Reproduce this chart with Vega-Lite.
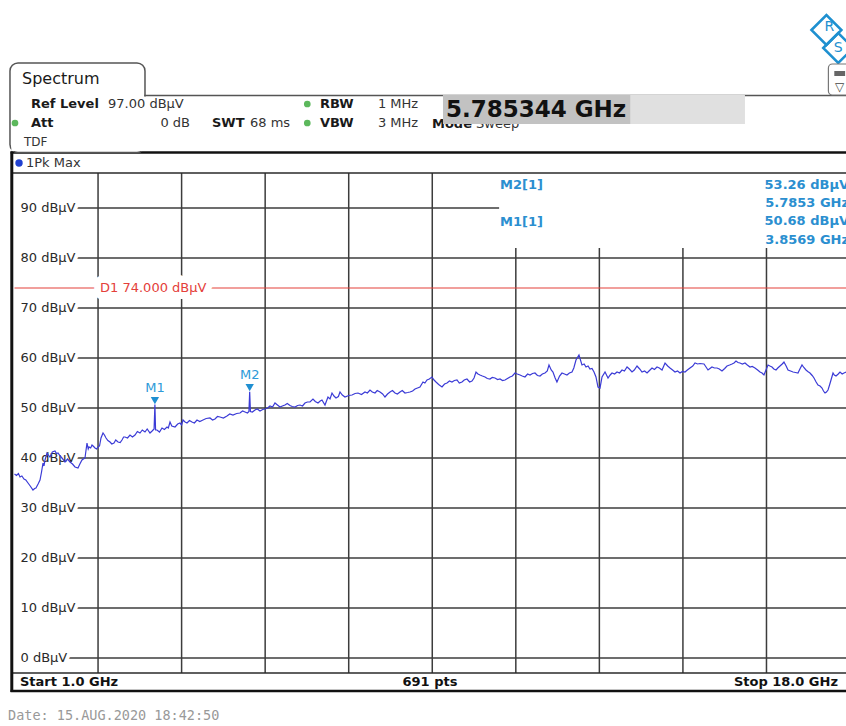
{
  "$schema": "https://vega.github.io/schema/vega-lite/v6.json",
  "width": 846,
  "height": 726,
  "autosize": {"type": "fit", "contains": "padding"},
  "padding": 0,
  "background": "white",
  "config": {"view": {"stroke": null}, "font": "DejaVu Sans", "text": {"font": "DejaVu Sans", "fontSize": 13}},
  "data": {"values": [{}]},
  "datasets": {
    "grid": [
      {"level": 90, "label": "90 dBµV"}, {"level": 80, "label": "80 dBµV"}, {"level": 70, "label": "70 dBµV"},
      {"level": 60, "label": "60 dBµV"}, {"level": 50, "label": "50 dBµV"}, {"level": 40, "label": "40 dBµV"},
      {"level": 30, "label": "30 dBµV"}, {"level": 20, "label": "20 dBµV"}, {"level": 10, "label": "10 dBµV"},
      {"level": 0, "label": "0 dBµV"}
    ],
    "divisions": [
      {"freq": 2.7}, {"freq": 4.4}, {"freq": 6.1}, {"freq": 7.8}, {"freq": 9.5},
      {"freq": 11.2}, {"freq": 12.9}, {"freq": 14.6}, {"freq": 16.3}
    ],
    "limit": [{"name": "D1", "level": 74, "label": "D1  74.000 dBµV"}],
    "markers": [
      {"marker": "M1", "freq": 3.8569, "level": 50.68},
      {"marker": "M2", "freq": 5.7853, "level": 53.26}
    ],
    "trace": [
      {"freq": 1.0, "level": 36.8}, {"freq": 1.04, "level": 36.5}, {"freq": 1.08, "level": 36.9}, {"freq": 1.112, "level": 36.2},
      {"freq": 1.15, "level": 36.4}, {"freq": 1.193, "level": 35.8}, {"freq": 1.23, "level": 35.6}, {"freq": 1.275, "level": 35.0},
      {"freq": 1.32, "level": 34.4}, {"freq": 1.376, "level": 33.6}, {"freq": 1.41, "level": 33.9}, {"freq": 1.437, "level": 34.0},
      {"freq": 1.48, "level": 34.8}, {"freq": 1.519, "level": 35.6}, {"freq": 1.55, "level": 37.2}, {"freq": 1.58, "level": 39.0},
      {"freq": 1.6, "level": 38.4}, {"freq": 1.621, "level": 39.6}, {"freq": 1.661, "level": 41.0}, {"freq": 1.69, "level": 40.6},
      {"freq": 1.722, "level": 40.2}, {"freq": 1.77, "level": 41.2}, {"freq": 1.824, "level": 41.4}, {"freq": 1.855, "level": 40.9},
      {"freq": 1.885, "level": 41.0}, {"freq": 1.93, "level": 40.4}, {"freq": 1.966, "level": 40.0}, {"freq": 2.0, "level": 39.6},
      {"freq": 2.027, "level": 39.2}, {"freq": 2.08, "level": 39.8}, {"freq": 2.129, "level": 39.2}, {"freq": 2.18, "level": 38.8},
      {"freq": 2.231, "level": 38.2}, {"freq": 2.292, "level": 38.0}, {"freq": 2.33, "level": 38.8}, {"freq": 2.373, "level": 39.6},
      {"freq": 2.434, "level": 40.0}, {"freq": 2.475, "level": 43.0}, {"freq": 2.5, "level": 41.8}, {"freq": 2.516, "level": 42.2},
      {"freq": 2.55, "level": 42.0}, {"freq": 2.577, "level": 42.6}, {"freq": 2.61, "level": 42.3}, {"freq": 2.638, "level": 42.0},
      {"freq": 2.67, "level": 41.8}, {"freq": 2.699, "level": 42.2}, {"freq": 2.73, "level": 42.4}, {"freq": 2.76, "level": 44.0},
      {"freq": 2.801, "level": 45.0}, {"freq": 2.83, "level": 44.6}, {"freq": 2.862, "level": 44.0}, {"freq": 2.9, "level": 43.5},
      {"freq": 2.943, "level": 43.2}, {"freq": 2.98, "level": 42.8}, {"freq": 3.024, "level": 43.0}, {"freq": 3.06, "level": 43.6},
      {"freq": 3.106, "level": 43.2}, {"freq": 3.15, "level": 43.1}, {"freq": 3.187, "level": 43.6}, {"freq": 3.22, "level": 44.2},
      {"freq": 3.248, "level": 44.2}, {"freq": 3.3, "level": 44.0}, {"freq": 3.35, "level": 44.6}, {"freq": 3.4, "level": 44.2},
      {"freq": 3.452, "level": 44.6}, {"freq": 3.5, "level": 45.3}, {"freq": 3.553, "level": 45.0}, {"freq": 3.6, "level": 45.6},
      {"freq": 3.655, "level": 45.2}, {"freq": 3.7, "level": 45.8}, {"freq": 3.757, "level": 45.0}, {"freq": 3.8, "level": 45.4},
      {"freq": 3.84, "level": 45.8}, {"freq": 3.8569, "level": 50.68}, {"freq": 3.87, "level": 45.6}, {"freq": 3.899, "level": 45.6},
      {"freq": 3.95, "level": 45.2}, {"freq": 4.001, "level": 46.0}, {"freq": 4.05, "level": 45.7}, {"freq": 4.103, "level": 46.2},
      {"freq": 4.13, "level": 46.0}, {"freq": 4.164, "level": 47.2}, {"freq": 4.2, "level": 46.4}, {"freq": 4.266, "level": 46.2},
      {"freq": 4.32, "level": 46.8}, {"freq": 4.367, "level": 47.0}, {"freq": 4.4, "level": 46.6}, {"freq": 4.428, "level": 47.6},
      {"freq": 4.47, "level": 47.2}, {"freq": 4.51, "level": 47.0}, {"freq": 4.56, "level": 47.5}, {"freq": 4.611, "level": 47.2},
      {"freq": 4.66, "level": 47.0}, {"freq": 4.713, "level": 47.6}, {"freq": 4.77, "level": 47.3}, {"freq": 4.835, "level": 47.6},
      {"freq": 4.9, "level": 47.9}, {"freq": 4.977, "level": 48.0}, {"freq": 5.03, "level": 47.6}, {"freq": 5.079, "level": 47.8},
      {"freq": 5.13, "level": 48.3}, {"freq": 5.181, "level": 48.2}, {"freq": 5.25, "level": 48.0}, {"freq": 5.323, "level": 48.4},
      {"freq": 5.38, "level": 48.8}, {"freq": 5.445, "level": 48.6}, {"freq": 5.52, "level": 48.9}, {"freq": 5.588, "level": 49.0},
      {"freq": 5.64, "level": 49.4}, {"freq": 5.69, "level": 49.2}, {"freq": 5.74, "level": 49.0}, {"freq": 5.77, "level": 49.3},
      {"freq": 5.7853, "level": 53.26}, {"freq": 5.8, "level": 49.3}, {"freq": 5.84, "level": 49.2}, {"freq": 5.893, "level": 49.6},
      {"freq": 5.94, "level": 49.8}, {"freq": 5.995, "level": 49.4}, {"freq": 6.05, "level": 49.7}, {"freq": 6.097, "level": 49.8},
      {"freq": 6.15, "level": 50.0}, {"freq": 6.198, "level": 50.4}, {"freq": 6.25, "level": 50.2}, {"freq": 6.3, "level": 51.0},
      {"freq": 6.35, "level": 50.6}, {"freq": 6.402, "level": 50.2}, {"freq": 6.45, "level": 50.4}, {"freq": 6.503, "level": 50.6},
      {"freq": 6.55, "level": 50.9}, {"freq": 6.605, "level": 50.5}, {"freq": 6.65, "level": 50.3}, {"freq": 6.707, "level": 50.2},
      {"freq": 6.76, "level": 50.5}, {"freq": 6.809, "level": 50.6}, {"freq": 6.86, "level": 50.4}, {"freq": 6.91, "level": 51.0},
      {"freq": 6.96, "level": 51.2}, {"freq": 7.012, "level": 51.2}, {"freq": 7.073, "level": 51.8}, {"freq": 7.12, "level": 51.3},
      {"freq": 7.175, "level": 51.0}, {"freq": 7.22, "level": 51.4}, {"freq": 7.256, "level": 51.6}, {"freq": 7.317, "level": 50.6},
      {"freq": 7.378, "level": 52.2}, {"freq": 7.42, "level": 51.8}, {"freq": 7.46, "level": 53.0}, {"freq": 7.5, "level": 52.4},
      {"freq": 7.541, "level": 52.0}, {"freq": 7.59, "level": 52.3}, {"freq": 7.623, "level": 53.2}, {"freq": 7.67, "level": 52.6},
      {"freq": 7.724, "level": 52.2}, {"freq": 7.8, "level": 52.5}, {"freq": 7.867, "level": 52.6}, {"freq": 7.93, "level": 52.9},
      {"freq": 7.989, "level": 53.0}, {"freq": 8.06, "level": 52.7}, {"freq": 8.131, "level": 53.2}, {"freq": 8.18, "level": 53.0},
      {"freq": 8.233, "level": 53.6}, {"freq": 8.28, "level": 53.2}, {"freq": 8.335, "level": 53.0}, {"freq": 8.38, "level": 53.5},
      {"freq": 8.437, "level": 53.2}, {"freq": 8.49, "level": 52.8}, {"freq": 8.538, "level": 52.2}, {"freq": 8.59, "level": 52.8},
      {"freq": 8.64, "level": 53.2}, {"freq": 8.69, "level": 53.5}, {"freq": 8.742, "level": 53.0}, {"freq": 8.79, "level": 52.8},
      {"freq": 8.843, "level": 53.2}, {"freq": 8.89, "level": 53.5}, {"freq": 8.945, "level": 53.0}, {"freq": 9.0, "level": 53.1},
      {"freq": 9.047, "level": 53.2}, {"freq": 9.1, "level": 53.4}, {"freq": 9.149, "level": 53.8}, {"freq": 9.2, "level": 54.0},
      {"freq": 9.25, "level": 54.2}, {"freq": 9.311, "level": 55.2}, {"freq": 9.35, "level": 55.0}, {"freq": 9.393, "level": 55.6},
      {"freq": 9.44, "level": 55.8}, {"freq": 9.494, "level": 56.2}, {"freq": 9.536, "level": 55.6}, {"freq": 9.576, "level": 55.2},
      {"freq": 9.63, "level": 54.7}, {"freq": 9.698, "level": 54.2}, {"freq": 9.75, "level": 54.8}, {"freq": 9.8, "level": 55.0},
      {"freq": 9.85, "level": 55.4}, {"freq": 9.901, "level": 55.2}, {"freq": 9.95, "level": 55.5}, {"freq": 10.003, "level": 55.6},
      {"freq": 10.05, "level": 55.0}, {"freq": 10.105, "level": 55.2}, {"freq": 10.15, "level": 55.6}, {"freq": 10.206, "level": 55.8},
      {"freq": 10.26, "level": 55.2}, {"freq": 10.308, "level": 55.4}, {"freq": 10.35, "level": 56.0}, {"freq": 10.39, "level": 57.2},
      {"freq": 10.43, "level": 56.8}, {"freq": 10.471, "level": 56.6}, {"freq": 10.52, "level": 56.4}, {"freq": 10.573, "level": 56.2},
      {"freq": 10.62, "level": 55.9}, {"freq": 10.674, "level": 55.8}, {"freq": 10.72, "level": 56.1}, {"freq": 10.776, "level": 56.0},
      {"freq": 10.83, "level": 55.7}, {"freq": 10.878, "level": 55.8}, {"freq": 10.93, "level": 55.5}, {"freq": 10.98, "level": 55.6},
      {"freq": 11.03, "level": 55.9}, {"freq": 11.081, "level": 56.2}, {"freq": 11.13, "level": 56.4}, {"freq": 11.183, "level": 57.0},
      {"freq": 11.23, "level": 56.8}, {"freq": 11.285, "level": 56.6}, {"freq": 11.33, "level": 56.4}, {"freq": 11.386, "level": 56.2},
      {"freq": 11.44, "level": 56.8}, {"freq": 11.488, "level": 56.6}, {"freq": 11.54, "level": 56.9}, {"freq": 11.59, "level": 57.0},
      {"freq": 11.64, "level": 56.5}, {"freq": 11.692, "level": 56.4}, {"freq": 11.74, "level": 56.8}, {"freq": 11.793, "level": 57.0},
      {"freq": 11.84, "level": 57.4}, {"freq": 11.875, "level": 58.6}, {"freq": 11.92, "level": 57.6}, {"freq": 11.956, "level": 57.2},
      {"freq": 12.0, "level": 56.0}, {"freq": 12.037, "level": 55.2}, {"freq": 12.09, "level": 56.4}, {"freq": 12.139, "level": 57.0},
      {"freq": 12.19, "level": 56.8}, {"freq": 12.241, "level": 56.6}, {"freq": 12.29, "level": 57.0}, {"freq": 12.343, "level": 57.2},
      {"freq": 12.38, "level": 58.0}, {"freq": 12.424, "level": 59.6}, {"freq": 12.485, "level": 60.6}, {"freq": 12.546, "level": 58.6},
      {"freq": 12.59, "level": 58.8}, {"freq": 12.628, "level": 58.2}, {"freq": 12.67, "level": 58.4}, {"freq": 12.709, "level": 57.8},
      {"freq": 12.75, "level": 57.9}, {"freq": 12.791, "level": 57.2}, {"freq": 12.831, "level": 56.2}, {"freq": 12.872, "level": 54.2},
      {"freq": 12.913, "level": 54.0}, {"freq": 12.954, "level": 56.2}, {"freq": 13.015, "level": 57.2}, {"freq": 13.076, "level": 56.0},
      {"freq": 13.12, "level": 56.6}, {"freq": 13.157, "level": 57.0}, {"freq": 13.21, "level": 56.8}, {"freq": 13.259, "level": 57.2},
      {"freq": 13.31, "level": 57.0}, {"freq": 13.361, "level": 57.6}, {"freq": 13.41, "level": 57.4}, {"freq": 13.463, "level": 58.2},
      {"freq": 13.51, "level": 57.8}, {"freq": 13.564, "level": 57.2}, {"freq": 13.61, "level": 57.6}, {"freq": 13.666, "level": 58.4},
      {"freq": 13.72, "level": 57.8}, {"freq": 13.768, "level": 57.2}, {"freq": 13.82, "level": 57.4}, {"freq": 13.87, "level": 57.0},
      {"freq": 13.92, "level": 57.5}, {"freq": 13.971, "level": 58.0}, {"freq": 14.02, "level": 57.7}, {"freq": 14.073, "level": 58.2},
      {"freq": 14.12, "level": 58.0}, {"freq": 14.175, "level": 57.6}, {"freq": 14.236, "level": 59.0}, {"freq": 14.29, "level": 58.4},
      {"freq": 14.337, "level": 58.0}, {"freq": 14.39, "level": 57.6}, {"freq": 14.439, "level": 57.2}, {"freq": 14.49, "level": 57.4},
      {"freq": 14.541, "level": 57.0}, {"freq": 14.59, "level": 57.3}, {"freq": 14.642, "level": 57.2}, {"freq": 14.69, "level": 57.6},
      {"freq": 14.744, "level": 58.0}, {"freq": 14.8, "level": 58.4}, {"freq": 14.846, "level": 59.0}, {"freq": 14.9, "level": 58.8},
      {"freq": 14.947, "level": 58.9}, {"freq": 15.029, "level": 58.8}, {"freq": 15.07, "level": 58.2}, {"freq": 15.11, "level": 57.6},
      {"freq": 15.15, "level": 57.9}, {"freq": 15.191, "level": 58.2}, {"freq": 15.24, "level": 58.0}, {"freq": 15.293, "level": 58.0},
      {"freq": 15.34, "level": 57.8}, {"freq": 15.395, "level": 57.4}, {"freq": 15.45, "level": 57.9}, {"freq": 15.497, "level": 58.4},
      {"freq": 15.55, "level": 58.6}, {"freq": 15.599, "level": 58.8}, {"freq": 15.64, "level": 59.0}, {"freq": 15.68, "level": 59.4},
      {"freq": 15.72, "level": 59.1}, {"freq": 15.761, "level": 59.0}, {"freq": 15.81, "level": 58.8}, {"freq": 15.863, "level": 59.0},
      {"freq": 15.91, "level": 58.6}, {"freq": 15.965, "level": 58.2}, {"freq": 16.01, "level": 58.3}, {"freq": 16.066, "level": 58.0},
      {"freq": 16.12, "level": 57.6}, {"freq": 16.168, "level": 57.2}, {"freq": 16.21, "level": 57.0}, {"freq": 16.249, "level": 56.6},
      {"freq": 16.29, "level": 57.6}, {"freq": 16.331, "level": 58.6}, {"freq": 16.37, "level": 58.4}, {"freq": 16.412, "level": 58.2},
      {"freq": 16.45, "level": 57.8}, {"freq": 16.494, "level": 57.6}, {"freq": 16.53, "level": 58.0}, {"freq": 16.575, "level": 58.4},
      {"freq": 16.62, "level": 58.8}, {"freq": 16.656, "level": 59.2}, {"freq": 16.7, "level": 58.4}, {"freq": 16.738, "level": 57.6},
      {"freq": 16.79, "level": 57.4}, {"freq": 16.84, "level": 57.2}, {"freq": 16.89, "level": 57.1}, {"freq": 16.941, "level": 57.0},
      {"freq": 16.98, "level": 57.8}, {"freq": 17.023, "level": 58.6}, {"freq": 17.06, "level": 58.1}, {"freq": 17.104, "level": 57.6},
      {"freq": 17.14, "level": 57.3}, {"freq": 17.185, "level": 57.0}, {"freq": 17.23, "level": 56.5}, {"freq": 17.267, "level": 56.0},
      {"freq": 17.31, "level": 55.2}, {"freq": 17.348, "level": 54.6}, {"freq": 17.39, "level": 54.4}, {"freq": 17.43, "level": 54.0},
      {"freq": 17.46, "level": 53.4}, {"freq": 17.491, "level": 53.0}, {"freq": 17.52, "level": 53.2}, {"freq": 17.552, "level": 53.6},
      {"freq": 17.58, "level": 54.5}, {"freq": 17.613, "level": 55.6}, {"freq": 17.654, "level": 57.0}, {"freq": 17.68, "level": 56.6},
      {"freq": 17.715, "level": 56.4}, {"freq": 17.76, "level": 56.8}, {"freq": 17.796, "level": 57.2}, {"freq": 17.84, "level": 56.8},
      {"freq": 17.877, "level": 57.0}, {"freq": 17.92, "level": 57.2}, {"freq": 18.0, "level": 57.0}
    ]
  },
  "layer": [
    {
      "data": {"name": "grid"},
      "mark": {"type": "rule", "color": "#3c3c3c", "strokeWidth": 1.5, "clip": true},
      "encoding": {
        "x": {"datum": 1.13, "scale": {"domain": [0.705, 17.918], "nice": false, "zero": false}, "axis": null},
        "x2": {"datum": 18},
        "y": {"field": "level", "type": "quantitative", "scale": {"domain": [-13.6, 131.6], "nice": false, "zero": false}, "axis": null}
      }
    },
    {
      "data": {"name": "divisions"},
      "mark": {"type": "rule", "color": "#3c3c3c", "strokeWidth": 1.5},
      "encoding": {
        "x": {"field": "freq", "type": "quantitative", "axis": null},
        "y": {"datum": 97, "axis": null}, "y2": {"datum": -3}
      }
    },
    {
      "mark": {"type": "rect", "color": "white", "clip": true},
      "encoding": {
        "x": {"datum": 10.86, "axis": null}, "x2": {"datum": 18},
        "y": {"datum": 97, "axis": null}, "y2": {"datum": 82}
      }
    },
    {
      "data": {"name": "grid"},
      "mark": {"type": "text", "align": "left", "baseline": "middle", "dx": 6, "fontSize": 13, "fill": "white", "stroke": "white", "strokeWidth": 8, "strokeJoin": "round"},
      "encoding": {
        "x": {"datum": 1, "axis": null},
        "y": {"field": "level", "type": "quantitative", "axis": null},
        "text": {"field": "label"}
      }
    },
    {
      "data": {"name": "grid"},
      "mark": {"type": "text", "align": "left", "baseline": "middle", "dx": 6, "fontSize": 13, "color": "#2a2a2a"},
      "encoding": {
        "x": {"datum": 1, "axis": null},
        "y": {"field": "level", "type": "quantitative", "axis": null},
        "text": {"field": "label"}
      }
    },
    {
      "data": {"name": "limit"},
      "mark": {"type": "rule", "color": "#e4403a", "strokeWidth": 1.2, "clip": true},
      "encoding": {
        "x": {"datum": 1, "axis": null}, "x2": {"datum": 18},
        "y": {"field": "level", "type": "quantitative", "axis": null}
      }
    },
    {
      "data": {"name": "limit"},
      "mark": {"type": "text", "align": "left", "baseline": "middle", "fontSize": 13, "fill": "white", "stroke": "white", "strokeWidth": 14, "strokeJoin": "round"},
      "encoding": {
        "x": {"datum": 2.74, "axis": null},
        "y": {"field": "level", "type": "quantitative", "axis": null},
        "text": {"field": "label"}
      }
    },
    {
      "data": {"name": "limit"},
      "mark": {"type": "text", "align": "left", "baseline": "middle", "fontSize": 13, "color": "#e4403a"},
      "encoding": {
        "x": {"datum": 2.74, "axis": null},
        "y": {"field": "level", "type": "quantitative", "axis": null},
        "text": {"field": "label"}
      }
    },
    {
      "data": {"name": "trace"},
      "mark": {"type": "line", "color": "#3b3bd6", "strokeWidth": 1.2, "clip": true},
      "encoding": {
        "x": {"field": "freq", "type": "quantitative", "axis": null},
        "y": {"field": "level", "type": "quantitative", "axis": null}
      }
    },
    {
      "data": {"name": "markers"},
      "mark": {"type": "point", "shape": "triangle-down", "filled": true, "color": "#1f8fd1", "size": 70, "opacity": 1, "yOffset": -4},
      "encoding": {
        "x": {"field": "freq", "type": "quantitative", "axis": null},
        "y": {"field": "level", "type": "quantitative", "axis": null}
      }
    },
    {
      "data": {"name": "markers"},
      "mark": {"type": "text", "baseline": "middle", "fontSize": 13, "dy": -17, "color": "#2d9ad8"},
      "encoding": {
        "x": {"field": "freq", "type": "quantitative", "axis": null},
        "y": {"field": "level", "type": "quantitative", "axis": null},
        "text": {"field": "marker"}
      }
    },
    {
      "mark": {"type": "text", "align": "left", "baseline": "middle", "fontSize": 13, "fontWeight": "bold", "color": "#2b8fd0"},
      "encoding": {"x": {"datum": 10.878, "axis": null}, "y": {"datum": 94.6, "axis": null}, "text": {"value": "M2[1]"}}
    },
    {
      "mark": {"type": "text", "align": "left", "baseline": "middle", "fontSize": 13, "fontWeight": "bold", "color": "#2b8fd0"},
      "encoding": {"x": {"datum": 10.878, "axis": null}, "y": {"datum": 87.2, "axis": null}, "text": {"value": "M1[1]"}}
    },
    {
      "mark": {"type": "text", "align": "right", "baseline": "middle", "fontSize": 13, "fontWeight": "bold", "color": "#2b8fd0", "clip": true},
      "encoding": {"x": {"datum": 17.98, "axis": null}, "y": {"datum": 94.6, "axis": null}, "text": {"value": "53.26 dBµV"}}
    },
    {
      "mark": {"type": "text", "align": "right", "baseline": "middle", "fontSize": 13, "fontWeight": "bold", "color": "#2b8fd0", "clip": true},
      "encoding": {"x": {"datum": 17.98, "axis": null}, "y": {"datum": 91.0, "axis": null}, "text": {"value": "5.7853 GHz"}}
    },
    {
      "mark": {"type": "text", "align": "right", "baseline": "middle", "fontSize": 13, "fontWeight": "bold", "color": "#2b8fd0", "clip": true},
      "encoding": {"x": {"datum": 17.98, "axis": null}, "y": {"datum": 87.4, "axis": null}, "text": {"value": "50.68 dBµV"}}
    },
    {
      "mark": {"type": "text", "align": "right", "baseline": "middle", "fontSize": 13, "fontWeight": "bold", "color": "#2b8fd0", "clip": true},
      "encoding": {"x": {"datum": 17.98, "axis": null}, "y": {"datum": 83.6, "axis": null}, "text": {"value": "3.8569 GHz"}}
    },
    {
      "mark": {"type": "rule", "color": "#2a2a2a", "strokeWidth": 1.6, "clip": true},
      "encoding": {"x": {"datum": 0.94, "axis": null}, "x2": {"datum": 18}, "y": {"datum": 97, "axis": null}}
    },
    {
      "mark": {"type": "rule", "color": "#2a2a2a", "strokeWidth": 1.6, "clip": true},
      "encoding": {"x": {"datum": 0.94, "axis": null}, "x2": {"datum": 18}, "y": {"datum": -3, "axis": null}}
    },
    {
      "mark": {"type": "rule", "color": "#111111", "strokeWidth": 2.5, "clip": true},
      "encoding": {"x": {"datum": 0.92, "axis": null}, "x2": {"datum": 18}, "y": {"datum": 101.1, "axis": null}}
    },
    {
      "mark": {"type": "rule", "color": "#111111", "strokeWidth": 2.5, "clip": true},
      "encoding": {"x": {"datum": 0.92, "axis": null}, "x2": {"datum": 18}, "y": {"datum": -6.6, "axis": null}}
    },
    {
      "mark": {"type": "rule", "color": "#111111", "strokeWidth": 3},
      "encoding": {"x": {"datum": 0.945, "axis": null}, "y": {"datum": 101.3, "axis": null}, "y2": {"datum": -6.8}}
    },
    {
      "mark": {"type": "point", "shape": "circle", "filled": true, "color": "#2040d0", "size": 55, "opacity": 1},
      "encoding": {"x": {"datum": 1.092, "axis": null}, "y": {"datum": 99, "axis": null}}
    },
    {
      "mark": {"type": "text", "align": "left", "baseline": "middle", "fontSize": 13, "color": "#333333"},
      "encoding": {"x": {"datum": 1.234, "axis": null}, "y": {"datum": 99, "axis": null}, "text": {"value": "1Pk Max"}}
    },
    {
      "mark": {"type": "text", "align": "left", "baseline": "middle", "fontSize": 13, "fontWeight": "bold", "color": "#111111"},
      "encoding": {"x": {"datum": 1.112, "axis": null}, "y": {"datum": -4.8, "axis": null}, "text": {"value": "Start 1.0 GHz"}}
    },
    {
      "mark": {"type": "text", "align": "center", "baseline": "middle", "fontSize": 13, "fontWeight": "bold", "color": "#111111"},
      "encoding": {"x": {"datum": 9.453, "axis": null}, "y": {"datum": -4.8, "axis": null}, "text": {"value": "691 pts"}}
    },
    {
      "mark": {"type": "text", "align": "right", "baseline": "middle", "fontSize": 13, "fontWeight": "bold", "color": "#111111"},
      "encoding": {"x": {"datum": 17.755, "axis": null}, "y": {"datum": -4.8, "axis": null}, "text": {"value": "Stop 18.0 GHz"}}
    },
    {
      "mark": {"type": "rect", "fill": "white", "stroke": "#555555", "strokeWidth": 1.5, "cornerRadius": 8},
      "encoding": {"x": {"datum": 0.908, "axis": null}, "x2": {"datum": 3.655}, "y": {"datum": 119, "axis": null}, "y2": {"datum": 101.1}}
    },
    {
      "mark": {"type": "rect", "color": "white", "clip": true},
      "encoding": {"x": {"datum": 0.935, "axis": null}, "x2": {"datum": 18}, "y": {"datum": 112.3, "axis": null}, "y2": {"datum": 101.4}}
    },
    {
      "mark": {"type": "rule", "color": "#555555", "strokeWidth": 1.5, "clip": true},
      "encoding": {"x": {"datum": 3.64, "axis": null}, "x2": {"datum": 18}, "y": {"datum": 112.5, "axis": null}}
    },
    {
      "mark": {"type": "text", "align": "left", "baseline": "middle", "fontSize": 16, "color": "#1a1a1a"},
      "encoding": {"x": {"datum": 1.153, "axis": null}, "y": {"datum": 115.8, "axis": null}, "text": {"value": "Spectrum"}}
    },
    {
      "mark": {"type": "text", "align": "left", "baseline": "middle", "fontSize": 13, "fontWeight": "bold", "color": "#1a1a1a"},
      "encoding": {"x": {"datum": 1.336, "axis": null}, "y": {"datum": 110.8, "axis": null}, "text": {"value": "Ref Level"}}
    },
    {
      "mark": {"type": "text", "align": "left", "baseline": "middle", "fontSize": 13, "color": "#333333"},
      "encoding": {"x": {"datum": 2.903, "axis": null}, "y": {"datum": 110.8, "axis": null}, "text": {"value": "97.00 dBµV"}}
    },
    {
      "mark": {"type": "point", "shape": "circle", "filled": true, "color": "#5cb85c", "size": 45, "opacity": 1},
      "encoding": {"x": {"datum": 1.01, "axis": null}, "y": {"datum": 107, "axis": null}}
    },
    {
      "mark": {"type": "text", "align": "left", "baseline": "middle", "fontSize": 13, "fontWeight": "bold", "color": "#1a1a1a"},
      "encoding": {"x": {"datum": 1.336, "axis": null}, "y": {"datum": 107, "axis": null}, "text": {"value": "Att"}}
    },
    {
      "mark": {"type": "text", "align": "right", "baseline": "middle", "fontSize": 13, "color": "#333333"},
      "encoding": {"x": {"datum": 4.571, "axis": null}, "y": {"datum": 107, "axis": null}, "text": {"value": "0 dB"}}
    },
    {
      "mark": {"type": "text", "align": "left", "baseline": "middle", "fontSize": 13, "fontWeight": "bold", "color": "#1a1a1a"},
      "encoding": {"x": {"datum": 5.018, "axis": null}, "y": {"datum": 107, "axis": null}, "text": {"value": "SWT"}}
    },
    {
      "mark": {"type": "text", "align": "left", "baseline": "middle", "fontSize": 13, "color": "#333333"},
      "encoding": {"x": {"datum": 5.791, "axis": null}, "y": {"datum": 107, "axis": null}, "text": {"value": "68 ms"}}
    },
    {
      "mark": {"type": "point", "shape": "circle", "filled": true, "color": "#5cb85c", "size": 45, "opacity": 1},
      "encoding": {"x": {"datum": 6.957, "axis": null}, "y": {"datum": 110.8, "axis": null}}
    },
    {
      "mark": {"type": "point", "shape": "circle", "filled": true, "color": "#5cb85c", "size": 45, "opacity": 1},
      "encoding": {"x": {"datum": 6.957, "axis": null}, "y": {"datum": 107, "axis": null}}
    },
    {
      "mark": {"type": "text", "align": "left", "baseline": "middle", "fontSize": 13, "fontWeight": "bold", "color": "#1a1a1a"},
      "encoding": {"x": {"datum": 7.216, "axis": null}, "y": {"datum": 110.8, "axis": null}, "text": {"value": "RBW"}}
    },
    {
      "mark": {"type": "text", "align": "left", "baseline": "middle", "fontSize": 13, "color": "#333333"},
      "encoding": {"x": {"datum": 8.395, "axis": null}, "y": {"datum": 110.8, "axis": null}, "text": {"value": "1 MHz"}}
    },
    {
      "mark": {"type": "text", "align": "left", "baseline": "middle", "fontSize": 13, "fontWeight": "bold", "color": "#1a1a1a"},
      "encoding": {"x": {"datum": 7.216, "axis": null}, "y": {"datum": 107, "axis": null}, "text": {"value": "VBW"}}
    },
    {
      "mark": {"type": "text", "align": "left", "baseline": "middle", "fontSize": 13, "color": "#333333"},
      "encoding": {"x": {"datum": 8.395, "axis": null}, "y": {"datum": 107, "axis": null}, "text": {"value": "3 MHz"}}
    },
    {
      "mark": {"type": "text", "align": "left", "baseline": "middle", "fontSize": 12, "color": "#333333"},
      "encoding": {"x": {"datum": 1.193, "axis": null}, "y": {"datum": 103.2, "axis": null}, "text": {"value": "TDF"}}
    },
    {
      "mark": {"type": "text", "align": "left", "baseline": "middle", "fontSize": 13, "fontWeight": "bold", "color": "#1a1a1a"},
      "encoding": {"x": {"datum": 9.494, "axis": null}, "y": {"datum": 106.9, "axis": null}, "text": {"value": "Mode"}}
    },
    {
      "mark": {"type": "text", "align": "left", "baseline": "middle", "fontSize": 13, "color": "#333333"},
      "encoding": {"x": {"datum": 10.39, "axis": null}, "y": {"datum": 106.9, "axis": null}, "text": {"value": "Sweep"}}
    },
    {
      "mark": {"type": "rect", "color": "#e0e0e0"},
      "encoding": {"x": {"datum": 9.718, "axis": null}, "x2": {"datum": 15.862}, "y": {"datum": 112.6, "axis": null}, "y2": {"datum": 106.8}}
    },
    {
      "mark": {"type": "rect", "color": "#c2c2c2"},
      "encoding": {"x": {"datum": 9.718, "axis": null}, "x2": {"datum": 13.529}, "y": {"datum": 112.6, "axis": null}, "y2": {"datum": 106.8}}
    },
    {
      "mark": {"type": "text", "align": "left", "baseline": "middle", "fontSize": 23, "fontWeight": "bold", "color": "#111111"},
      "encoding": {"x": {"datum": 9.779, "axis": null}, "y": {"datum": 109.6, "axis": null}, "text": {"value": "5.785344 GHz"}}
    },
    {
      "mark": {"type": "point", "shape": "diamond", "filled": false, "color": "#1e90d0", "strokeWidth": 2.5, "size": 900, "opacity": 1, "clip": true},
      "encoding": {"x": {"datum": 17.52, "axis": null}, "y": {"datum": 125.6, "axis": null}}
    },
    {
      "mark": {"type": "point", "shape": "diamond", "filled": false, "color": "#1e90d0", "strokeWidth": 2.5, "size": 900, "opacity": 1, "clip": true},
      "encoding": {"x": {"datum": 17.76, "axis": null}, "y": {"datum": 122.0, "axis": null}}
    },
    {
      "mark": {"type": "text", "align": "center", "baseline": "middle", "fontSize": 14, "color": "#1e90d0"},
      "encoding": {"x": {"datum": 17.58, "axis": null}, "y": {"datum": 126.2, "axis": null}, "text": {"value": "R"}}
    },
    {
      "mark": {"type": "text", "align": "center", "baseline": "middle", "fontSize": 14, "color": "#1e90d0"},
      "encoding": {"x": {"datum": 17.76, "axis": null}, "y": {"datum": 122.0, "axis": null}, "text": {"value": "S"}}
    },
    {
      "mark": {"type": "rect", "fill": "white", "stroke": "#777777", "strokeWidth": 1.2, "cornerRadius": 4, "clip": true},
      "encoding": {"x": {"datum": 17.56, "axis": null}, "x2": {"datum": 18.1}, "y": {"datum": 118.8, "axis": null}, "y2": {"datum": 112.6}}
    },
    {
      "mark": {"type": "text", "align": "center", "baseline": "middle", "fontSize": 12, "color": "#444444"},
      "encoding": {"x": {"datum": 17.79, "axis": null}, "y": {"datum": 114.2, "axis": null}, "text": {"value": "▽"}}
    },
    {
      "mark": {"type": "rect", "fill": "#666666"},
      "encoding": {"x": {"datum": 17.68, "axis": null}, "x2": {"datum": 17.9}, "y": {"datum": 117.4, "axis": null}, "y2": {"datum": 116.4}}
    },
    {
      "mark": {"type": "text", "align": "left", "baseline": "middle", "fontSize": 13.5, "font": "DejaVu Sans Mono", "color": "#999999"},
      "encoding": {"x": {"datum": 0.868, "axis": null}, "y": {"datum": -11.6, "axis": null}, "text": {"value": "Date: 15.AUG.2020  18:42:50"}}
    }
  ]
}
